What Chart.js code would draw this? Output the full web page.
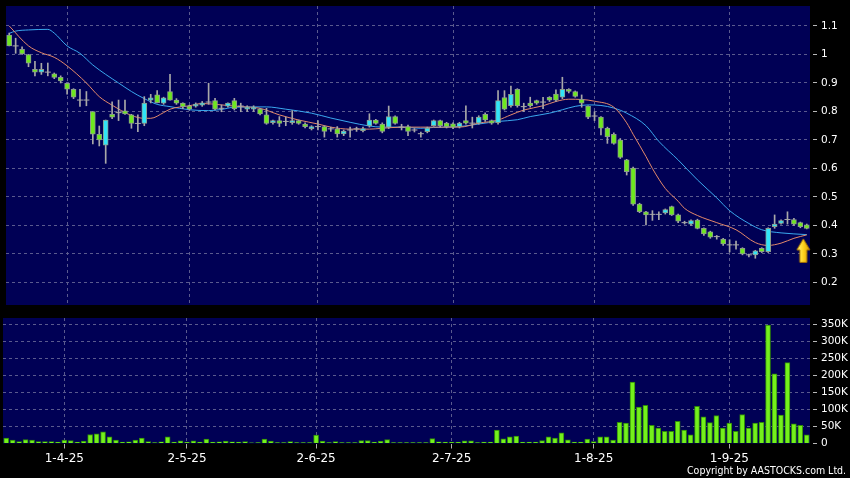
<!DOCTYPE html>
<html><head><meta charset="utf-8">
<script src="https://cdn.jsdelivr.net/npm/chart.js@4.4.1/dist/chart.umd.min.js"></script>
<style>
html,body{margin:0;padding:0;background:#000;width:850px;height:478px;overflow:hidden}
#c1{position:absolute;left:0;top:0}
#c2{position:absolute;left:0;top:312px}
#copy{position:absolute;left:687px;top:464px;color:#fff;font-family:'DejaVu Sans Condensed','DejaVu Sans',sans-serif;font-size:10.5px;white-space:nowrap;font-stretch:condensed}
</style></head><body>
<canvas id="c1" width="850" height="312"></canvas>
<canvas id="c2" width="850" height="166"></canvas>
<div id="copy">Copyright by AASTOCKS.com Ltd.</div>
<script>
const dates = [
'19-3-25','20-3-25','21-3-25','24-3-25','25-3-25','26-3-25','27-3-25','28-3-25','31-3-25',
'1-4-25','2-4-25','3-4-25','7-4-25','8-4-25','9-4-25','10-4-25','11-4-25','14-4-25','15-4-25','16-4-25','17-4-25','22-4-25','23-4-25','24-4-25','25-4-25','28-4-25','29-4-25','30-4-25',
'2-5-25','6-5-25','7-5-25','8-5-25','9-5-25','12-5-25','13-5-25','14-5-25','15-5-25','16-5-25','19-5-25','20-5-25','21-5-25','22-5-25','23-5-25','26-5-25','27-5-25','28-5-25','29-5-25','30-5-25',
'2-6-25','3-6-25','4-6-25','5-6-25','6-6-25','9-6-25','10-6-25','11-6-25','12-6-25','13-6-25','16-6-25','17-6-25','18-6-25','19-6-25','20-6-25','23-6-25','24-6-25','25-6-25','26-6-25','27-6-25','30-6-25',
'2-7-25','3-7-25','4-7-25','7-7-25','8-7-25','9-7-25','10-7-25','11-7-25','14-7-25','15-7-25','16-7-25','17-7-25','18-7-25','21-7-25','22-7-25','23-7-25','24-7-25','25-7-25','28-7-25','29-7-25','30-7-25','31-7-25',
'1-8-25','4-8-25','5-8-25','6-8-25','7-8-25','8-8-25','11-8-25','12-8-25','13-8-25','14-8-25','15-8-25','18-8-25','19-8-25','20-8-25','21-8-25','22-8-25','25-8-25','26-8-25','27-8-25','28-8-25','29-8-25',
'1-9-25','2-9-25','3-9-25','4-9-25','5-9-25','8-9-25','9-9-25','10-9-25','11-9-25','12-9-25','15-9-25','16-9-25','17-9-25'];

const xLabelDates = ['1-4-25','2-5-25','2-6-25','2-7-25','1-8-25','1-9-25'];

const opens = [1.068,1.030,1.018,1.000,0.948,0.938,0.938,0.932,0.920,0.899,0.878,0.840,0.840,0.800,0.720,0.682,0.790,0.796,0.802,0.788,
0.758,0.758,0.840,0.858,0.829,0.870,0.840,0.829,0.819,0.819,0.822,0.833,0.838,0.811,0.819,0.838,0.819,0.808,0.808,0.808,
0.788,0.761,0.768,0.765,0.761,0.768,0.756,0.740,0.747,0.747,0.739,0.739,0.721,0.735,0.739,0.733,0.749,0.770,0.756,0.745,
0.782,0.745,0.747,0.735,0.722,0.729,0.750,0.768,0.759,0.757,0.747,0.768,0.759,0.759,0.790,0.768,0.761,0.849,0.820,0.878,
0.817,0.829,0.838,0.833,0.850,0.861,0.850,0.878,0.870,0.843,0.819,0.784,0.780,0.741,0.720,0.700,0.630,0.601,0.475,0.448,
0.439,0.439,0.444,0.466,0.437,0.410,0.405,0.419,0.390,0.378,0.361,0.352,0.332,0.332,0.320,0.297,0.297,0.320,0.308,0.396,
0.407,0.421,0.421,0.410,0.402];
const highs = [1.075,1.057,1.027,1.000,0.976,0.969,0.970,0.935,0.925,0.900,0.880,0.878,0.870,0.800,0.749,0.770,0.834,0.840,0.840,0.790,
0.788,0.852,0.860,0.873,0.850,0.930,0.845,0.830,0.822,0.830,0.835,0.899,0.846,0.823,0.830,0.846,0.829,0.820,0.820,0.810,
0.811,0.770,0.782,0.780,0.803,0.770,0.760,0.750,0.768,0.750,0.745,0.747,0.735,0.745,0.745,0.745,0.792,0.772,0.760,0.819,
0.785,0.755,0.752,0.740,0.728,0.745,0.770,0.770,0.762,0.760,0.762,0.820,0.780,0.785,0.795,0.770,0.873,0.873,0.889,0.880,
0.829,0.850,0.840,0.850,0.852,0.876,0.920,0.880,0.872,0.858,0.820,0.799,0.782,0.745,0.725,0.705,0.632,0.605,0.478,0.450,
0.452,0.448,0.458,0.468,0.440,0.415,0.420,0.422,0.392,0.380,0.365,0.355,0.350,0.345,0.322,0.300,0.313,0.322,0.392,0.437,
0.420,0.448,0.425,0.412,0.405];
const lows = [1.030,1.004,1.000,0.957,0.925,0.930,0.925,0.915,0.900,0.861,0.845,0.818,0.820,0.686,0.679,0.618,0.775,0.768,0.790,0.741,
0.729,0.750,0.830,0.830,0.825,0.840,0.825,0.810,0.805,0.815,0.818,0.825,0.805,0.799,0.815,0.805,0.799,0.800,0.800,0.788,
0.755,0.755,0.747,0.750,0.755,0.755,0.742,0.735,0.735,0.710,0.730,0.710,0.715,0.710,0.730,0.728,0.745,0.755,0.725,0.740,
0.755,0.735,0.715,0.728,0.710,0.725,0.748,0.745,0.742,0.740,0.742,0.755,0.742,0.755,0.765,0.755,0.755,0.805,0.815,0.815,
0.800,0.815,0.825,0.810,0.835,0.835,0.845,0.865,0.850,0.815,0.775,0.768,0.718,0.688,0.685,0.635,0.577,0.470,0.445,0.402,
0.418,0.420,0.440,0.435,0.410,0.405,0.400,0.388,0.365,0.355,0.352,0.330,0.307,0.317,0.297,0.290,0.285,0.305,0.305,0.390,
0.405,0.405,0.400,0.392,0.388];
const closes = [1.030,1.030,1.002,0.969,0.938,0.948,0.938,0.919,0.907,0.878,0.850,0.840,0.840,0.720,0.700,0.770,0.780,0.796,0.791,0.758,
0.758,0.829,0.848,0.831,0.848,0.840,0.829,0.817,0.808,0.826,0.830,0.833,0.808,0.811,0.829,0.810,0.819,0.815,0.815,0.791,
0.758,0.768,0.758,0.765,0.768,0.758,0.747,0.747,0.747,0.730,0.739,0.721,0.731,0.735,0.739,0.740,0.770,0.758,0.730,0.782,
0.758,0.745,0.730,0.735,0.722,0.742,0.768,0.750,0.747,0.745,0.759,0.759,0.759,0.780,0.770,0.759,0.838,0.808,0.860,0.820,
0.817,0.820,0.829,0.833,0.840,0.840,0.878,0.870,0.853,0.829,0.780,0.784,0.741,0.712,0.688,0.639,0.589,0.475,0.448,0.437,
0.439,0.439,0.456,0.437,0.415,0.410,0.417,0.390,0.370,0.359,0.361,0.335,0.332,0.332,0.300,0.297,0.311,0.308,0.390,0.405,
0.417,0.421,0.405,0.396,0.390];

// volume in thousands of shares
const volumesK = [15.7,9.8,5.9,11.8,9.8,5.9,5.9,5.9,3.9,9.8,8.8,3.9,6.9,26.5,28.4,34.3,19.6,9.8,3.9,4.9,
9.8,15.7,5.9,2.9,4.9,19.6,3.9,7.8,3.9,7.8,3.9,12.7,3.9,4.9,6.9,4.9,3.9,5.9,2.0,2.9,
12.7,6.9,2.9,2.9,5.9,2.9,2.9,2.9,24.5,6.9,2.9,5.9,2.9,2.9,2.9,8.8,8.8,3.9,6.9,11.8,
2.9,2.9,2.9,2.9,2.9,2.9,14.7,4.9,3.9,3.9,3.9,7.8,7.8,2.9,3.9,3.9,39.2,13.7,19.6,21.6,
3.9,3.9,3.9,8.8,19.6,15.7,31.4,10.8,3.9,3.9,12.7,5.9,19.6,19.6,9.8,62,60,180,107,112,
53,45,36,36,65,39,25.5,109,78,61,82,45,60,36,85,45,60,62,347,204,
83,237,58,53,25.5];

// moving-average lines: [day index, value]
const maFast = [[0,1.100],[3,1.030],[5,1.006],[7,0.990],[9,0.960],[12,0.900],[14,0.852],[16,0.822],[19,0.786],[21,0.776],[22,0.776],
[24,0.796],[25,0.808],[28,0.820],[30,0.828],[33,0.823],[36,0.817],[39,0.811],[42,0.788],[45,0.770],[48,0.756],[50,0.745],[53,0.738],
[56,0.738],[58,0.741],[61,0.745],[64,0.745],[66,0.745],[70,0.745],[73,0.759],[76,0.770],[78,0.788],[80,0.805],[83,0.820],[85,0.835],
[87,0.843],[89,0.842],[91,0.836],[94,0.815],[96,0.760],[97,0.720],[99,0.642],[100,0.600],[102,0.530],[104,0.485],[105,0.460],
[107,0.435],[110,0.410],[113,0.385],[116,0.340],[118,0.330],[120,0.338],[122,0.355],[124,0.367]];
const maSlow = [[0,1.074],[1,1.082],[3,1.086],[6,1.088],[7,1.075],[9,1.030],[11,1.004],[13,0.963],[15,0.930],[17,0.900],[19,0.870],
[21,0.845],[23,0.825],[25,0.817],[28,0.806],[31,0.803],[33,0.807],[35,0.815],[40,0.816],[43,0.808],[47,0.794],[50,0.777],[53,0.762],
[56,0.749],[58,0.745],[61,0.745],[64,0.741],[66,0.744],[70,0.747],[73,0.756],[76,0.765],[79,0.771],[81,0.782],[84,0.794],[86,0.806],
[88,0.818],[90,0.823],[92,0.821],[94,0.812],[96,0.794],[99,0.750],[101,0.695],[104,0.630],[107,0.560],[110,0.497],[112,0.452],
[115,0.407],[117,0.385],[120,0.374],[124,0.368]];

// marker (yellow arrow) under the last bar
const markerDay = 124;
const markerValue = 0.311;

const priceMin = 0.121, priceMax = 1.17, priceStep = 0.1;
const volMaxK = 368, volStepK = 50;

// ---------- styling ----------
const NAVY = '#000055';
const GRID = '#5a5a8e';
const GREEN = '#6ee81e', CYAN = '#30e4f8', CANDLE_EDGE = '#8c9c8c', WICK = '#a8a8a8';
const VOL_FILL = '#74f01c', VOL_EDGE = '#2f8a08';
const ORANGE = '#e4896a', BLUE = '#3aa8ee';

Chart.defaults.font.family = "'DejaVu Sans', sans-serif";
Chart.defaults.animation = false;

const labelIdx = new Set(xLabelDates.map(d => dates.indexOf(d)));
const bgPlugin = { id: 'bg', beforeDraw(chart) {
  const { ctx, chartArea: a } = chart;
  ctx.save(); ctx.fillStyle = NAVY; ctx.fillRect(a.left, a.top, a.right - a.left, a.bottom - a.top); ctx.restore();
}};

const isDoji = i => opens[i] === closes[i];
const bodyColor = i => closes[i] > opens[i] ? CYAN : GREEN;

function makeArrow() {
  const c = document.createElement('canvas');
  c.width = 22; c.height = 26;
  const g = c.getContext('2d');
  const cx = 7.5; // arrow slightly left of canvas center
  g.beginPath();
  g.moveTo(cx, 1);
  g.lineTo(cx + 6.5, 12);
  g.lineTo(cx + 3.5, 12);
  g.lineTo(cx + 3.5, 24.5);
  g.lineTo(cx - 3.5, 24.5);
  g.lineTo(cx - 3.5, 12);
  g.lineTo(cx - 6.5, 12);
  g.closePath();
  const grd = g.createLinearGradient(cx - 6, 0, cx + 6, 0);
  grd.addColorStop(0, '#fff27a'); grd.addColorStop(0.5, '#ffd21e'); grd.addColorStop(1, '#e0a000');
  g.fillStyle = grd; g.fill();
  g.strokeStyle = '#b07a00'; g.lineWidth = 1; g.stroke();
  return c;
}

const xCommon = (showLabels, h) => ({
  type: 'category',
  offset: true,
  grid: {
    offset: false,
    color: c => labelIdx.has(c.index) ? GRID : 'rgba(0,0,0,0)',
    drawTicks: showLabels,
    tickLength: 5,
    tickColor: c => labelIdx.has(c.index) ? '#b0b0b0' : 'rgba(0,0,0,0)'
  },
  border: { display: false, dash: [3, 3] },
  ticks: {
    display: showLabels,
    autoSkip: false,
    maxRotation: 0,
    color: '#ffffff',
    font: { size: 12 },
    padding: 3,
    callback: function(v, i) { return labelIdx.has(i) ? dates[i] : ''; }
  },
  afterFit: s => { s.height = h; s.paddingLeft = 0; s.paddingRight = 0; }
});
const yFit = s => { s.width = 40; s.paddingTop = 0; s.paddingBottom = 0; };

// ---------- price chart ----------
new Chart(document.getElementById('c1'), {
  type: 'bar',
  data: {
    labels: dates,
    datasets: [
      { type: 'line', data: maSlow.map(([i, v]) => ({ x: dates[i], y: v })), borderColor: BLUE, borderWidth: 1,
        pointRadius: 0, cubicInterpolationMode: 'monotone', order: 6 },
      { type: 'line', data: maFast.map(([i, v]) => ({ x: dates[i], y: v })), borderColor: ORANGE, borderWidth: 1,
        pointRadius: 0, cubicInterpolationMode: 'monotone', order: 5 },
      { type: 'bar', data: dates.map((d, i) => [lows[i], highs[i]]), backgroundColor: WICK,
        barThickness: 1, grouped: false, order: 4 },
      { type: 'bar', data: dates.map((d, i) => isDoji(i) ? null : [Math.min(opens[i], closes[i]), Math.max(opens[i], closes[i])]),
        backgroundColor: dates.map((d, i) => bodyColor(i)), borderColor: CANDLE_EDGE, borderWidth: 1, borderSkipped: false,
        barThickness: 5, grouped: false, order: 3 },
      { type: 'line', data: dates.map((d, i) => isDoji(i) ? opens[i] : null), showLine: false, pointStyle: 'line',
        pointRadius: 3, borderColor: WICK, borderWidth: 1, order: 2 },
      { type: 'line', data: dates.map((d, i) => i === markerDay ? markerValue : null), showLine: false,
        pointStyle: makeArrow(), pointRadius: 5, order: 0 }
    ]
  },
  options: {
    responsive: false,
    layout: { padding: { left: 3, top: 6, right: 0, bottom: 0 } },
    plugins: { legend: { display: false }, tooltip: { enabled: false } },
    scales: {
      x: xCommon(false, 7),
      y: {
        position: 'right', min: priceMin, max: priceMax,
        grid: { color: GRID, tickColor: '#b8b8b8', tickLength: 7, tickBorderDash: [0, 3, 4, 50] },
        border: { display: false, dash: [3, 3] },
        ticks: { stepSize: priceStep, includeBounds: false, color: '#ffffff', font: { size: 10.5 }, padding: 4,
          callback: v => String(+v.toFixed(1)) },
        afterFit: yFit
      }
    }
  },
  plugins: [bgPlugin]
});

// ---------- volume chart ----------
new Chart(document.getElementById('c2'), {
  type: 'bar',
  data: {
    labels: dates,
    datasets: [
      { data: volumesK, backgroundColor: VOL_FILL, borderColor: VOL_EDGE, borderWidth: 1, barThickness: 5 }
    ]
  },
  options: {
    responsive: false,
    layout: { padding: { left: 3, top: 6, right: 0, bottom: 0 } },
    plugins: { legend: { display: false }, tooltip: { enabled: false } },
    scales: {
      x: xCommon(true, 34.5),
      y: {
        position: 'right', min: 0, max: volMaxK,
        grid: { color: c => (c.tick && c.tick.value === 0) ? 'rgba(0,0,0,0)' : GRID,
          tickColor: '#b8b8b8', tickLength: 7, tickBorderDash: [0, 3, 4, 50] },
        border: { display: false, dash: [3, 3] },
        ticks: { stepSize: volStepK, includeBounds: false, color: '#ffffff', font: { size: 10.5 }, padding: 4,
          callback: v => v === 0 ? '0' : v + 'K' },
        afterFit: yFit
      }
    }
  },
  plugins: [bgPlugin]
});
</script>
</body></html>
